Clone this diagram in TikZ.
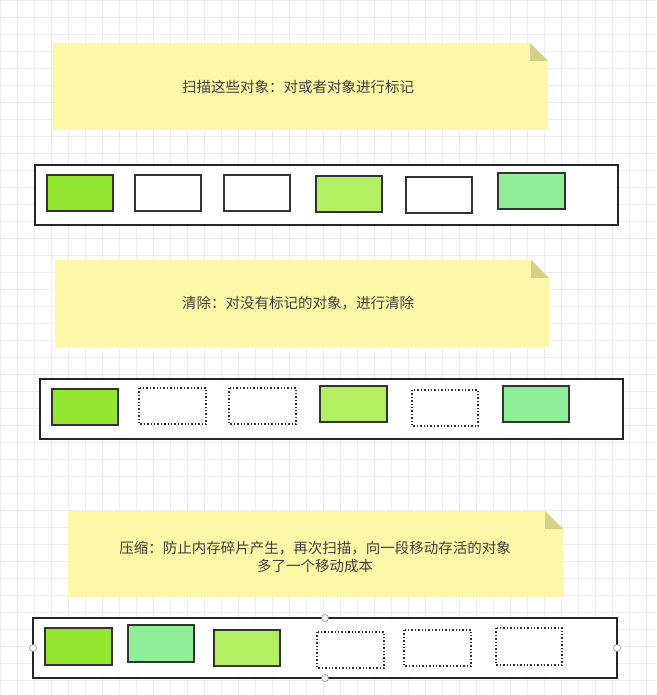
\documentclass[tikz,border=0pt]{standalone}
\usepackage{fontspec}
\newfontfamily\cjk{Noto Sans CJK SC}
\definecolor{note}{HTML}{FFF7A8}
\definecolor{fold}{HTML}{D7D08A}
\definecolor{gA}{HTML}{95E631}
\definecolor{gB}{HTML}{B2EF62}
\definecolor{gC}{HTML}{8FEF98}
\tikzset{
  bar/.style={draw=black!85,line width=1.4pt,fill=white},
  obj/.style={draw=black!80,line width=1.2pt},
  gone/.style={draw=black!80,line width=1.4pt,dash pattern=on 1.4pt off 2pt,fill=white},
  lbl/.style={font=\cjk\fontsize{14.5pt}{18pt}\selectfont,text=black!75,align=center},
  handle/.style={circle,draw=black!60,fill=white,inner sep=0pt,minimum size=7pt}
}
\begin{document}
\begin{tikzpicture}[x=1pt,y=-1pt]
\useasboundingbox (0,0) rectangle (656,695);
\fill[white] (0,0) rectangle (656,695);
\draw[black!7,line width=0.5pt] (0,0) grid[step=17pt] (656,695);
% notes
\foreach \nm/\xa/\ya/\xb/\yb in {n1/53/43/548/130, n2/55/260/549/347, n3/68/511/563/597}{
  \fill[note] (\xa,\ya) -- (\xb-18,\ya) -- (\xb,\ya+18) -- (\xb,\yb) -- (\xa,\yb) -- cycle;
  \fill[fold] (\xb-18,\ya) -- (\xb,\ya+18) -- (\xb-18,\ya+18) -- cycle;
}
\node[lbl] (t1) at (298,87) {扫描这些对象：对或者对象进行标记};
\node[lbl] (t2) at (298,303) {清除：对没有标记的对象，进行清除};
\node[lbl] (t3) at (315,557) {压缩：防止内存碎片产生，再次扫描，向一段移动存活的对象\\多了一个移动成本};
% bar 1
\draw[bar] (35,165) rectangle (618,225);
\draw[obj,fill=gA] (47,175) rectangle (113,211);
\draw[obj,fill=white] (135,175) rectangle (201,211);
\draw[obj,fill=white] (224,175) rectangle (290,211);
\draw[obj,fill=gB] (316,176) rectangle (382,212);
\draw[obj,fill=white] (406,177) rectangle (472,213);
\draw[obj,fill=gC] (498,173) rectangle (565,209);
% bar 2
\draw[bar] (40,379) rectangle (623,439);
\draw[obj,fill=gA] (52,389) rectangle (118,425);
\draw[gone] (139,388) rectangle (206,424);
\draw[gone] (229,388) rectangle (296,424);
\draw[obj,fill=gB] (320,386) rectangle (387,422);
\draw[gone] (412,390) rectangle (478,426);
\draw[obj,fill=gC] (503,386) rectangle (569,422);
% bar 3
\draw[bar] (33,618) rectangle (617,678);
\draw[obj,fill=gA] (45,628) rectangle (112,665);
\draw[obj,fill=gC] (128,625) rectangle (194,662);
\draw[obj,fill=gB] (214,630) rectangle (280,666);
\draw[gone] (317,632) rectangle (384,668);
\draw[gone] (404,630) rectangle (471,666);
\draw[gone] (496,628) rectangle (562,665);
\node[handle] (h1) at (325,618) {};
\node[handle] (h2) at (325,678) {};
\node[handle] (h3) at (33,648) {};
\node[handle] (h4) at (617,648) {};
\end{tikzpicture}
\end{document}
